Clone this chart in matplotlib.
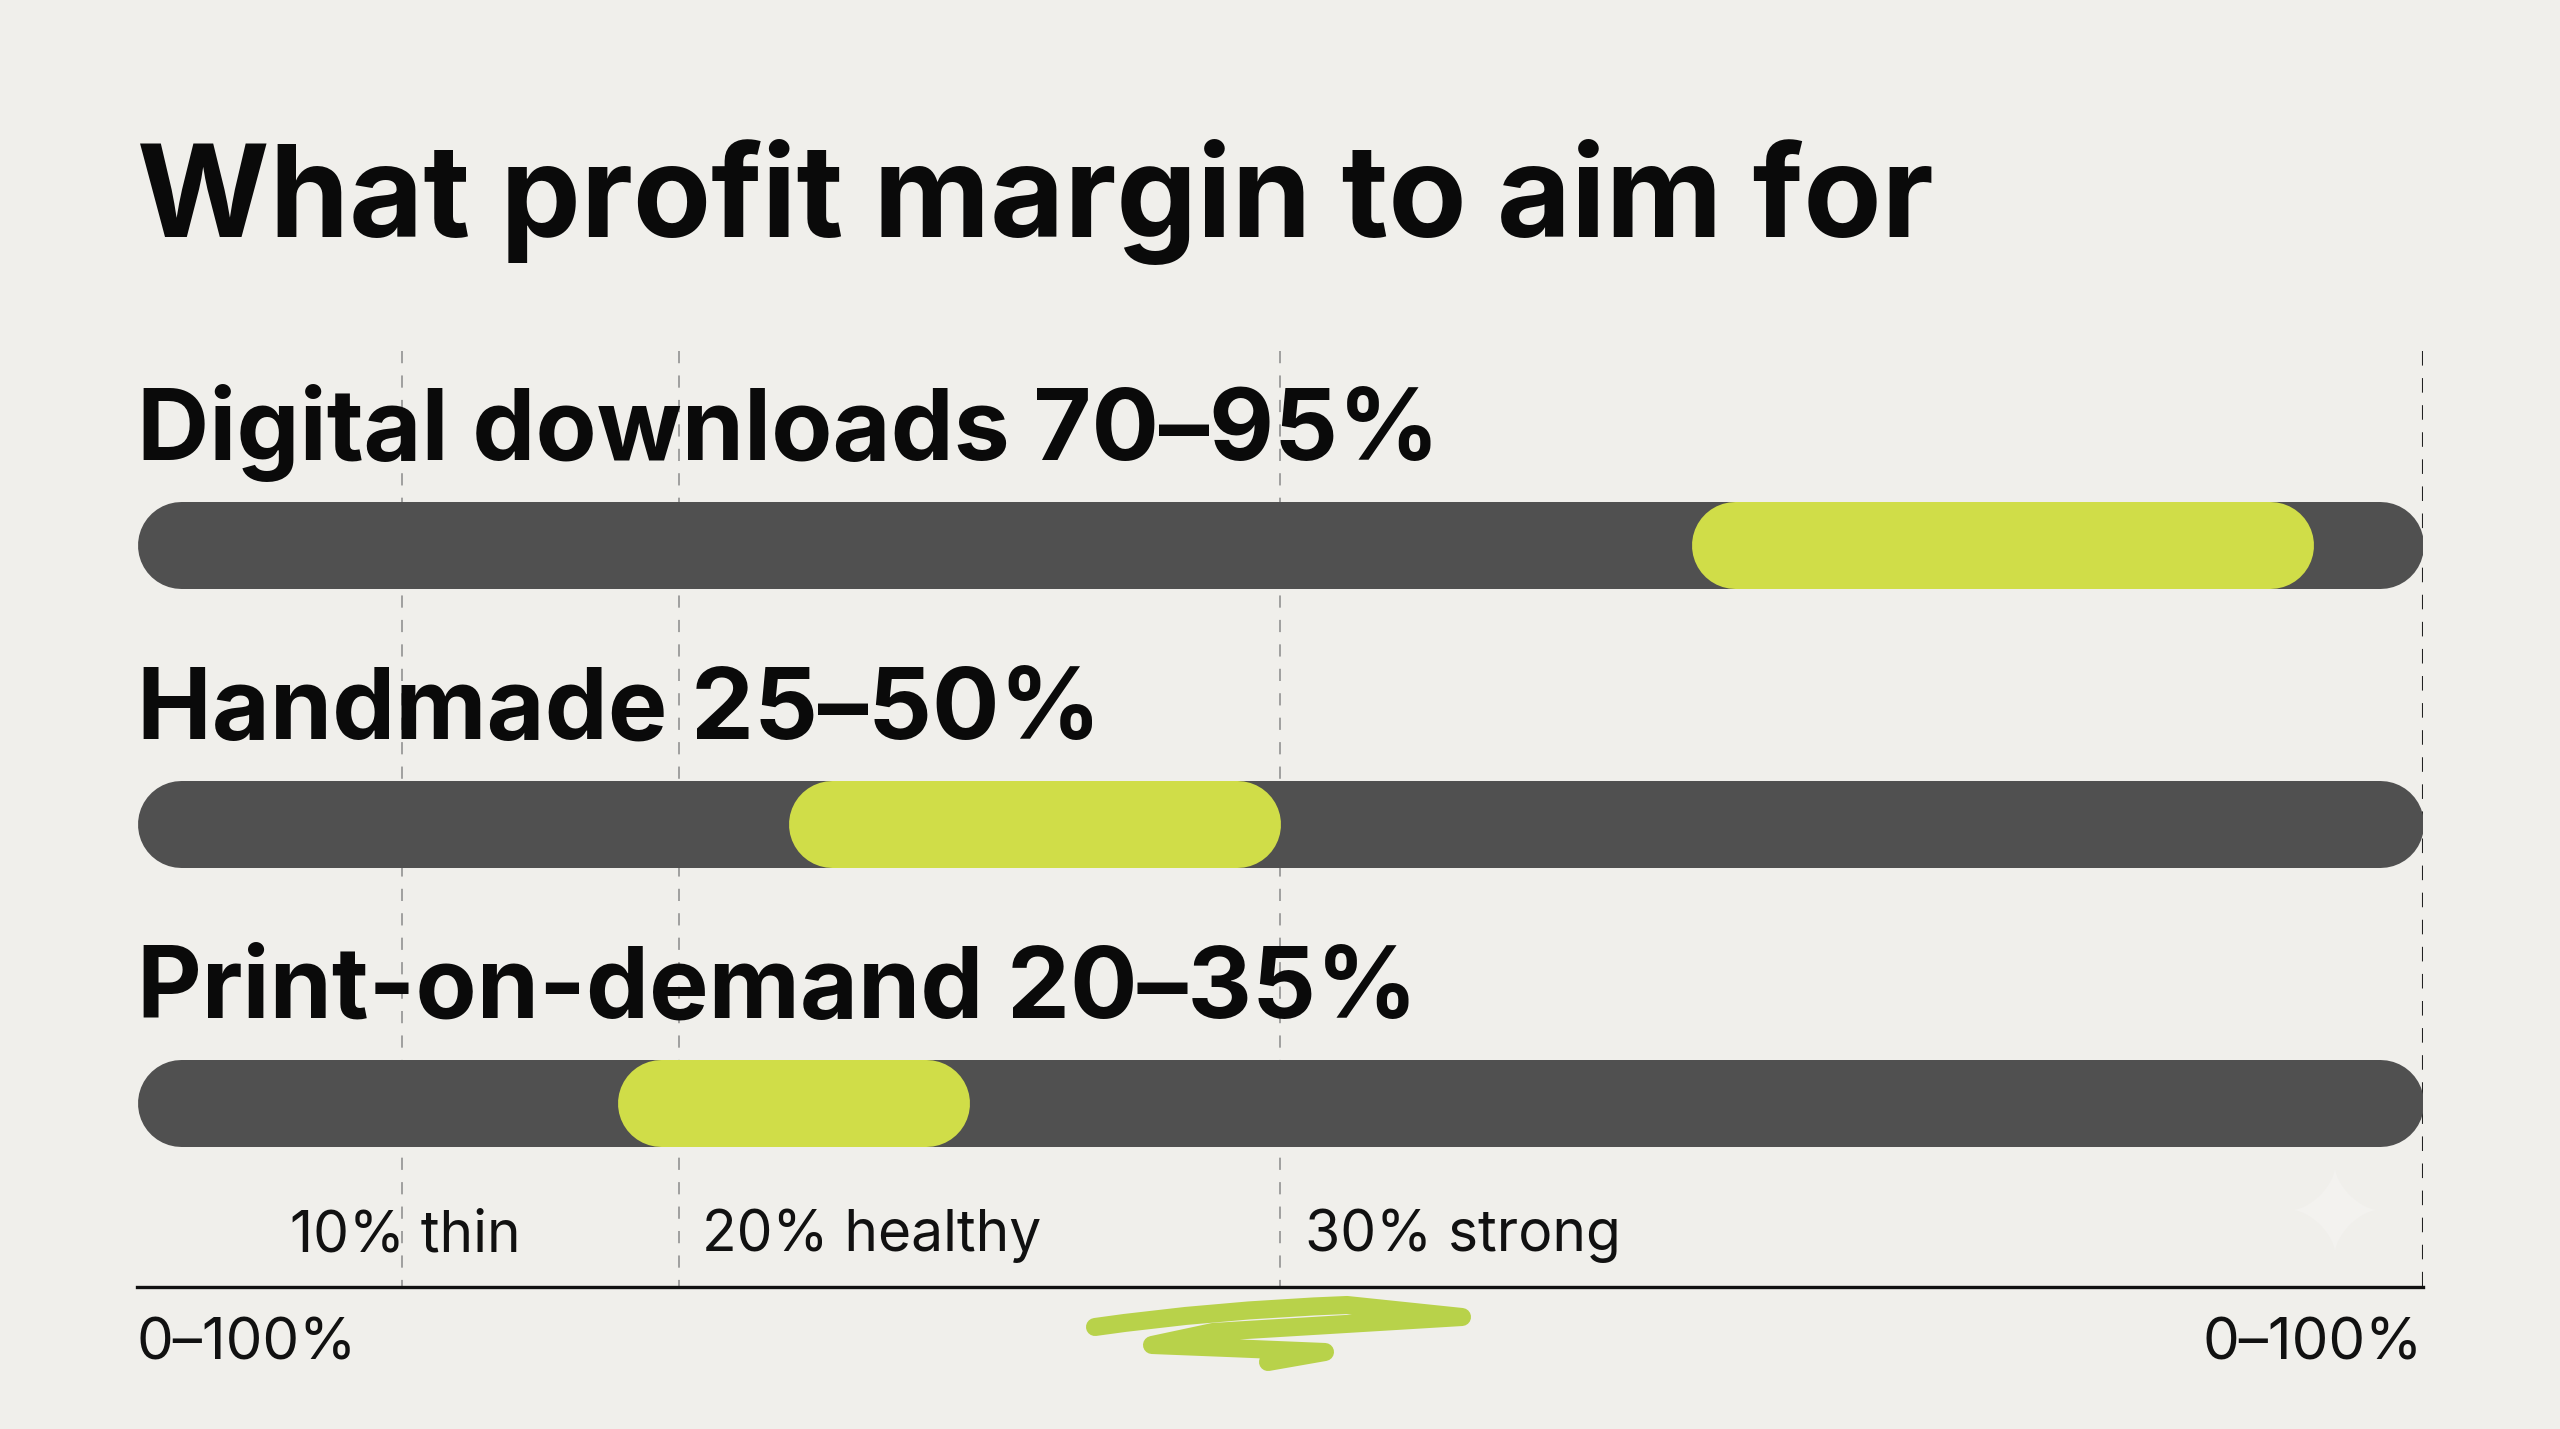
"""
    Profit margin target ranges by product type
        - rounded track bars with highlighted target range
        - dashed reference lines for thin / healthy / strong margins
"""

import numpy as np
import matplotlib.pyplot as plt
from matplotlib.path import Path as MPath
from matplotlib.patches import PathPatch

W, H, DPI = 2560, 1429, 100

BG = "#f0efeb"
TRACK = "#505050"
LIME = "#d0dd48"
SCRIBBLE = "#b8d24a"

plt.rcParams["font.family"] = ["Inter", "DejaVu Sans"]

# %% data (0-100 scale of the track)
categories = ["Digital downloads 70–95%", "Handmade 25–50%", "Print-on-demand 20–35%"]
range_lo = [68.0, 28.5, 21.0]
range_hi = [95.2, 50.0, 36.4]

ref_pos = [11.6, 23.7, 50.0]
ref_labels = ["10% thin", "20% healthy", "30% strong"]
end_label = "0–100%"

# %% layout helpers (figure pixels -> fractions)
def fx(px):
    return px / W

def fy(py):
    return 1 - py / H

fig = plt.figure(figsize=(W / DPI, H / DPI), dpi=DPI, facecolor=BG)

ax_left, ax_right = 137, 2423
ax_top, ax_bottom = 351, 1287
ax = fig.add_axes([fx(ax_left), fy(ax_bottom), fx(ax_right) - fx(ax_left), (ax_bottom - ax_top) / H])
ax.set_facecolor(BG)

row_px = 279
first_row_px = 545
ax.set_xlim(0, 100)
ax.set_ylim(2 + (ax_bottom - 1103) / row_px, 0 - (first_row_px - ax_top) / row_px)

bar_px = 87
bar_lw = bar_px * 72 / DPI
r = (bar_px / 2) / ((ax_right - ax_left) / 100)   # cap radius in data units

y = np.arange(len(categories))
for i, name in enumerate(categories):
    ax.plot([r, 100 - r], [y[i], y[i]], color=TRACK, lw=bar_lw,
            solid_capstyle="round", zorder=2)
    ax.plot([range_lo[i] + r, range_hi[i] - r], [y[i], y[i]], color=LIME, lw=bar_lw,
            solid_capstyle="round", zorder=3)
    ax.text(0, y[i] - 0.305, name, fontsize=72, fontweight="bold", color="#0a0a0a",
            ha="left", va="baseline", zorder=4)

y_top, y_bot = ax.get_ylim()[1], ax.get_ylim()[0]
for xp in ref_pos:
    ax.plot([xp, xp], [y_top, y_bot], color="#8a8a8a", lw=1.1,
            dashes=(8, 8), zorder=1)
ax.plot([100, 100], [y_top, y_bot], color="#222222", lw=1.5,
        dashes=(7, 6), zorder=1)

# threshold labels (left edges)
label_x = [6.7, 24.7, 51.1]
label_y = 2 + (1251 - 1103) / row_px
for xp, txt in zip(label_x, ref_labels):
    ax.text(xp, label_y, txt, fontsize=41, color="#111111", ha="left", va="baseline")

for side in ["top", "left", "right"]:
    ax.spines[side].set_visible(False)
ax.spines["bottom"].set_color("#111111")
ax.spines["bottom"].set_linewidth(2.4)
ax.set_xticks([])
ax.set_yticks([])

# title and end labels
fig.text(fx(137), fy(237), "What profit margin to aim for", fontsize=92,
         fontweight="bold", color="#0a0a0a", ha="left", va="baseline")
fig.text(fx(137), fy(1359), end_label, fontsize=42, color="#111111",
         ha="left", va="baseline")
fig.text(fx(2423), fy(1359), end_label, fontsize=42, color="#111111",
         ha="right", va="baseline")

# hand-drawn scribble under the axis
scr = [(1095, 1327), (1213, 1310), (1347, 1305), (1462, 1317),
       (1313, 1326), (1213, 1332), (1152, 1345), (1230, 1348),
       (1325, 1352), (1268, 1362)]
codes = [MPath.MOVETO] + [MPath.CURVE3] * 2 + [MPath.LINETO] + [MPath.CURVE3] * 2 \
    + [MPath.LINETO] + [MPath.CURVE3] * 2 + [MPath.LINETO]
verts = [(fx(px), fy(py)) for px, py in scr]
fig.patches.append(PathPatch(MPath(verts, codes), transform=fig.transFigure,
                             fill=False, edgecolor=SCRIBBLE, lw=13,
                             capstyle="round", joinstyle="round"))

# faint sparkle mark
cx, cy, s = 2335, 1210, 42
t = np.linspace(0, 2 * np.pi, 200)
sx = cx + s * np.cos(t) ** 3
sy = cy + s * np.sin(t) ** 3
fig.patches.append(plt.Polygon(np.column_stack([fx(sx), fy(sy)]), closed=True,
                               transform=fig.transFigure, color="#f3f2ef", lw=0))

fig.savefig("out.png", dpi=DPI, facecolor=BG)
